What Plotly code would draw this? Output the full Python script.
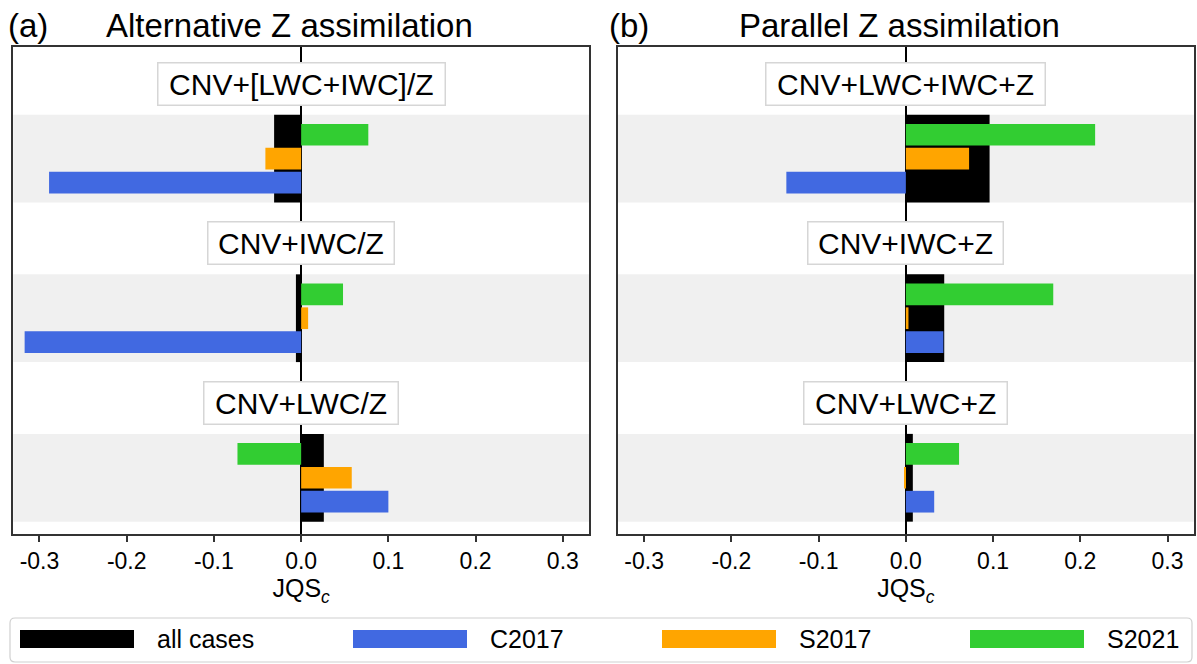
import plotly.graph_objects as go

# ---------------- data ----------------
cases = ["all cases", "C2017", "S2017", "S2021"]

exp_a = ["CNV+LWC/Z", "CNV+IWC/Z", "CNV+[LWC+IWC]/Z"]      # bottom -> top
all_a = [0.026, -0.006, -0.031]
c2017_a = [0.100, -0.317, -0.289]
s2017_a = [0.058, 0.008, -0.041]
s2021_a = [-0.073, 0.048, 0.077]

exp_b = ["CNV+LWC+Z", "CNV+IWC+Z", "CNV+LWC+IWC+Z"]        # bottom -> top
all_b = [0.008, 0.044, 0.096]
c2017_b = [0.0325, 0.043, -0.137]
s2017_b = [-0.001, 0.003, 0.0725]
s2021_b = [0.061, 0.169, 0.217]

xtick_vals = [-0.3, -0.2, -0.1, 0.0, 0.1, 0.2, 0.3]
xtick_text = ["-0.3", "-0.2", "-0.1", "0.0", "0.1", "0.2", "0.3"]

titles = ["Alternative Z assimilation", "Parallel Z assimilation"]
panel_tags = ["(a)", "(b)"]

# ---------------- style ----------------
colors = ["#000000", "#4169E1", "#FFA500", "#32CD32"]
offsets = [0.0, -0.15, 0.0, 0.15]
widths = [0.55, 0.136, 0.136, 0.136]
FONT = "Liberation Sans, Arial, sans-serif"
W, H = 1197, 664


def px(x):
    return x / W


def py(y):
    return 1 - y / H


# approximate Arial advance widths (em) for label box sizing
CW = {"C": .722, "N": .722, "V": .667, "+": .584, "L": .556, "W": .944,
      "I": .278, "Z": .611, "/": .278, "[": .278, "]": .278}

fig = go.Figure()

panels = [
    ("x", "y", exp_a, [all_a, c2017_a, s2017_a, s2021_a]),
    ("x2", "y2", exp_b, [all_b, c2017_b, s2017_b, s2021_b]),
]

shapes = []
annotations = []
label_fs = 30
for xa, ya, exps, series in panels:
    groups = list(range(len(exps)))
    for k, vals in enumerate(series):
        fig.add_trace(go.Bar(
            x=vals, y=[g + offsets[k] for g in groups], orientation="h",
            width=widths[k], marker=dict(color=colors[k], line=dict(width=0)),
            name=cases[k], showlegend=False, xaxis=xa, yaxis=ya,
        ))
    for g, lab in zip(groups, exps):
        shapes.append(dict(type="rect", xref=f"{xa} domain", yref=ya,
                           x0=0, x1=1, y0=g - 0.275, y1=g + 0.275,
                           fillcolor="#f0f0f0", line=dict(width=0), layer="below"))
        em = sum(CW.get(c, 0.6) for c in lab)
        annotations.append(dict(
            x=0, y=g + 0.47, xref=xa, yref=ya, text=lab, showarrow=False,
            font=dict(family=FONT, size=label_fs, color="black"),
            bgcolor="white", bordercolor="#d6d6d6", borderwidth=1.5,
            borderpad=3, width=em * label_fs + 13, height=35,
            xanchor="center", yanchor="middle"))

# panel titles
title_left = [104, 737]
tag_left = [6, 607]
for i in range(2):
    annotations.append(dict(x=px(tag_left[i]), y=py(25), xref="paper", yref="paper",
                            text=panel_tags[i], showarrow=False, xanchor="left",
                            yanchor="middle", font=dict(family=FONT, size=33, color="black")))
    annotations.append(dict(x=px(title_left[i]), y=py(25), xref="paper", yref="paper",
                            text=titles[i], showarrow=False, xanchor="left",
                            yanchor="middle", font=dict(family=FONT, size=33, color="black")))

# manual legend (wide patches like the reference)
lg_x0, lg_x1, lg_y0, lg_y1, r = 10, 1192, 618, 662, 5
path = (f"M {px(lg_x0 + r)},{py(lg_y0)} L {px(lg_x1 - r)},{py(lg_y0)} "
        f"Q {px(lg_x1)},{py(lg_y0)} {px(lg_x1)},{py(lg_y0 + r)} "
        f"L {px(lg_x1)},{py(lg_y1 - r)} Q {px(lg_x1)},{py(lg_y1)} {px(lg_x1 - r)},{py(lg_y1)} "
        f"L {px(lg_x0 + r)},{py(lg_y1)} Q {px(lg_x0)},{py(lg_y1)} {px(lg_x0)},{py(lg_y1 - r)} "
        f"L {px(lg_x0)},{py(lg_y0 + r)} Q {px(lg_x0)},{py(lg_y0)} {px(lg_x0 + r)},{py(lg_y0)} Z")
shapes.append(dict(type="path", xref="paper", yref="paper", path=path,
                   fillcolor="white", line=dict(color="#d0d0d0", width=1.2)))
patch_left = [20, 353, 662, 970]
for k in range(4):
    shapes.append(dict(type="rect", xref="paper", yref="paper",
                       x0=px(patch_left[k]), x1=px(patch_left[k] + 114),
                       y0=py(648), y1=py(630), fillcolor=colors[k], line=dict(width=0)))
    annotations.append(dict(x=px(patch_left[k] + 135), y=py(639), xref="paper", yref="paper",
                            text=cases[k], showarrow=False, xanchor="left", yanchor="middle",
                            font=dict(family=FONT, size=25, color="black")))

axis_common = dict(range=[-0.33, 0.33], tickvals=xtick_vals, ticktext=xtick_text,
                   ticks="outside", ticklen=6, tickwidth=1.5, tickcolor="#333",
                   showline=True, linecolor="#333", linewidth=1.5, mirror=True,
                   showgrid=False, zeroline=True, zerolinecolor="black", zerolinewidth=1.5,
                   tickfont=dict(family=FONT, size=23, color="black"),
                   title=dict(text="JQS<sub><i>c</i></sub>", standoff=5,
                              font=dict(family=FONT, size=25, color="black")),
                   fixedrange=True)
yaxis_common = dict(range=[-0.3525, 2.7], showticklabels=False, ticks="",
                    showline=True, linecolor="#333", linewidth=1.5, mirror=True,
                    showgrid=False, zeroline=False, fixedrange=True,
                    domain=[py(534), py(47)])

fig.update_layout(
    width=W, height=H, margin=dict(l=0, r=0, t=0, b=0),
    paper_bgcolor="white", plot_bgcolor="white", barmode="overlay",
    xaxis=dict(domain=[px(13.3), px(589)], anchor="y", **axis_common),
    xaxis2=dict(domain=[px(618), px(1193.7)], anchor="y2", **axis_common),
    yaxis=dict(anchor="x", **yaxis_common),
    yaxis2=dict(anchor="x2", **yaxis_common),
    shapes=shapes, annotations=annotations, showlegend=False,
    font=dict(family=FONT),
)

fig.write_html("out.html")
